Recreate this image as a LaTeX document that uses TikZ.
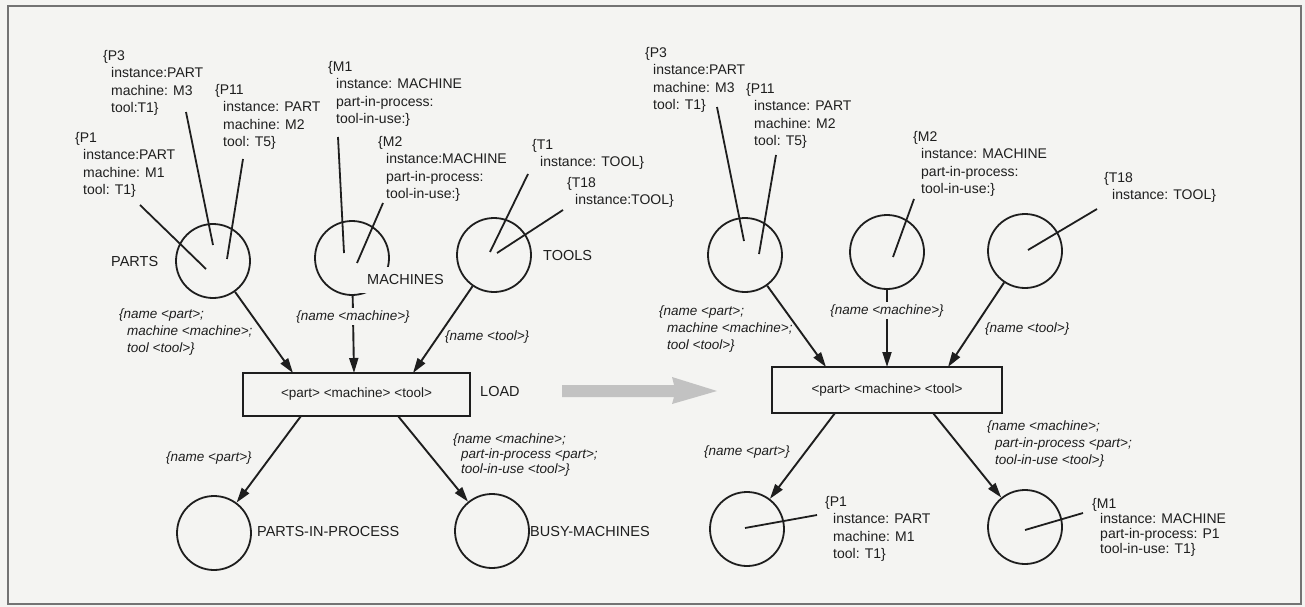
\documentclass[tikz,border=0pt]{standalone}
\usepackage{fontspec}
\setmainfont{Liberation Sans}
\usetikzlibrary{arrows.meta}
\definecolor{bg}{RGB}{244,244,242}
\definecolor{ink}{RGB}{30,30,30}
\newcommand{\rind}{\hspace*{8pt}}
\begin{document}
\begin{tikzpicture}[x=1pt,y=-1pt,
 place/.style={circle, draw=ink, line width=1.8pt, minimum size=74pt, inner sep=0},
 trans/.style={rectangle, draw=ink, line width=1.8pt, inner sep=0, font=\fontsize{13.5}{15}\selectfont, text=ink},
 tok/.style={draw=ink, line width=1.8pt},
 arc/.style={draw=ink, line width=1.9pt, -{Triangle[length=15pt,width=9pt]}},
 rec/.style={anchor=north west, align=left, inner sep=0, font=\fontsize{14}{17.5}\selectfont, text=ink},
 lab/.style={anchor=west, inner sep=0, font=\fontsize{14.5}{16}\selectfont, text=ink},
 alab/.style={align=left, inner sep=0, font=\fontsize{13.5}{17}\selectfont\itshape, text=ink},
]
\useasboundingbox (0,0) rectangle (1305,607);
\fill[bg] (0,0) rectangle (1305,607);
\draw[black!55, line width=1.3pt] (8,6) rectangle (1301,604);

% ---------------- left net ----------------
\node[place] (parts) at (213,261) {};
\node[place] (machines) at (352,258) {};
\node[place] (tools) at (494,255) {};
\node[trans, minimum width=227pt, minimum height=43pt] (load) at (356.5,394.5) {<part> <machine> <tool>};
\node[place] (pip) at (214,533) {};
\node[place] (bm) at (492,531) {};

\node[lab] (partsl) at (111,262) {PARTS};
\node[lab, fill=bg, inner xsep=10pt, inner ysep=8pt] (machl) at (357,280) {MACHINES};
\node[lab] (toolsl) at (543,256) {TOOLS};
\node[lab] (loadl) at (480,392) {LOAD};
\node[lab] (pipl) at (257,532) {PARTS-IN-PROCESS};
\node[lab] (bml) at (530,532) {BUSY-MACHINES};

\coordinate (lin1) at (293,373);
\coordinate (lin2) at (354,373);
\coordinate (lin3) at (413,373);
\coordinate (lout1) at (301,416);
\coordinate (lout2) at (398,416);

\draw[arc] (parts) -- (lin1);
\draw[arc] (machines) -- node[alab, pos=0.27, fill=bg, inner sep=2pt] (la2) {\{name <machine>\}} (lin2);
\draw[arc] (tools) -- (lin3);
\draw[arc] (lout1) -- (pip);
\draw[arc] (lout2) -- (bm);

\node[alab, anchor=north west] (la1) at (119,309) {\{name <part>;\\\rind machine <machine>;\\\rind tool <tool>\}};
\node[alab, anchor=west] (la3) at (445,337) {\{name <tool>\}};
\node[alab, anchor=west] (la4) at (166,458) {\{name <part>\}};
\node[alab, anchor=north west, font=\fontsize{13.5}{15}\selectfont\itshape] (la5) at (453,434) {\{name <machine>;\\\rind part-in-process <part>;\\\rind tool-in-use <tool>\}};

\node[rec] (p3) at (103,50) {\{P3\\\rind instance:PART\\\rind machine: M3\\\rind tool:T1\}};
\node[rec] (p1) at (75,132) {\{P1\\\rind instance:PART\\\rind machine: M1\\\rind tool: T1\}};
\node[rec] (p11) at (215,84) {\{P11\\\rind instance: PART\\\rind machine: M2\\\rind tool: T5\}};
\node[rec] (m1) at (328,61) {\{M1\\\rind instance: MACHINE\\\rind part-in-process:\\\rind tool-in-use:\}};
\node[rec] (m2) at (378,136) {\{M2\\\rind instance:MACHINE\\\rind part-in-process:\\\rind tool-in-use:\}};
\node[rec] (t1) at (532,139) {\{T1\\\rind instance: TOOL\}};
\node[rec] (t18) at (567,177) {\{T18\\\rind instance:TOOL\}};

\coordinate (p3a) at (186,112);  \coordinate (p3b) at (213,245);
\coordinate (p11a) at (243,159); \coordinate (p11b) at (227,259);
\coordinate (p1a) at (140,205);  \coordinate (p1b) at (206,269);
\coordinate (m1a) at (338,137);  \coordinate (m1b) at (344,253);
\coordinate (m2a) at (383,203);  \coordinate (m2b) at (357,263);
\coordinate (t1a) at (528,174);  \coordinate (t1b) at (490,252);
\coordinate (t18a) at (563,210); \coordinate (t18b) at (497,253);
\draw[tok] (p3a) -- (p3b);
\draw[tok] (p11a) -- (p11b);
\draw[tok] (p1a) -- (p1b);
\draw[tok] (m1a) -- (m1b);
\draw[tok] (m2a) -- (m2b);
\draw[tok] (t1a) -- (t1b);
\draw[tok] (t18a) -- (t18b);

% ---------------- transformation arrow ----------------
\fill[black!24] (562,385) -- (674,385) -- (672,377) -- (717,391) -- (672,404) -- (674,397) -- (562,397) -- cycle;

% ---------------- right net ----------------
\node[place] (rparts) at (745,255) {};
\node[place] (rmach) at (887,252) {};
\node[place] (rtools) at (1025,251) {};
\node[trans, minimum width=230pt, minimum height=46pt] (rload) at (887,390) {<part> <machine> <tool>};
\node[place] (rpip) at (747,529) {};
\node[place] (rbm) at (1025,527) {};

\coordinate (rin1) at (826,367);
\coordinate (rin2) at (887,367);
\coordinate (rin3) at (948,367);
\coordinate (rout1) at (835,413);
\coordinate (rout2) at (933,413);

\draw[arc] (rparts) -- (rin1);
\draw[arc] (rmach) -- node[alab, pos=0.27, fill=bg, inner sep=2pt] (rla2) {\{name <machine>\}} (rin2);
\draw[arc] (rtools) -- (rin3);
\draw[arc] (rout1) -- (rpip);
\draw[arc] (rout2) -- (rbm);

\node[alab, anchor=north west] (rla1) at (659,306) {\{name <part>;\\\rind machine <machine>;\\\rind tool <tool>\}};
\node[alab, anchor=west] (rla3) at (985,329) {\{name <tool>\}};
\node[alab, anchor=west] (rla4) at (704,452) {\{name <part>\}};
\node[alab, anchor=north west] (rla5) at (987,421) {\{name <machine>;\\\rind part-in-process <part>;\\\rind tool-in-use <tool>\}};

\node[rec] (rp3) at (645,47) {\{P3\\\rind instance:PART\\\rind machine: M3\\\rind tool: T1\}};
\node[rec] (rp11) at (746,83) {\{P11\\\rind instance: PART\\\rind machine: M2\\\rind tool: T5\}};
\node[rec] (rm2) at (913,131) {\{M2\\\rind instance: MACHINE\\\rind part-in-process:\\\rind tool-in-use:\}};
\node[rec] (rt18) at (1104,172) {\{T18\\\rind instance: TOOL\}};
\node[rec] (rp1) at (825,496) {\{P1\\\rind instance: PART\\\rind machine: M1\\\rind tool: T1\}};
\node[rec, font=\fontsize{14}{15}\selectfont] (rm1) at (1092,498) {\{M1\\\rind instance: MACHINE\\\rind part-in-process: P1\\\rind tool-in-use: T1\}};

\coordinate (rp3a) at (717,107);   \coordinate (rp3b) at (744,241);
\coordinate (rp11a) at (776,155);  \coordinate (rp11b) at (759,254);
\coordinate (rm2a) at (914,199);   \coordinate (rm2b) at (893,257);
\coordinate (rt18a) at (1097,209); \coordinate (rt18b) at (1028,250);
\coordinate (rp1a) at (817,515);   \coordinate (rp1b) at (745,528);
\coordinate (rm1a) at (1083,513);  \coordinate (rm1b) at (1025,530);
\draw[tok] (rp3a) -- (rp3b);
\draw[tok] (rp11a) -- (rp11b);
\draw[tok] (rm2a) -- (rm2b);
\draw[tok] (rt18a) -- (rt18b);
\draw[tok] (rp1a) -- (rp1b);
\draw[tok] (rm1a) -- (rm1b);
\end{tikzpicture}
\end{document}
